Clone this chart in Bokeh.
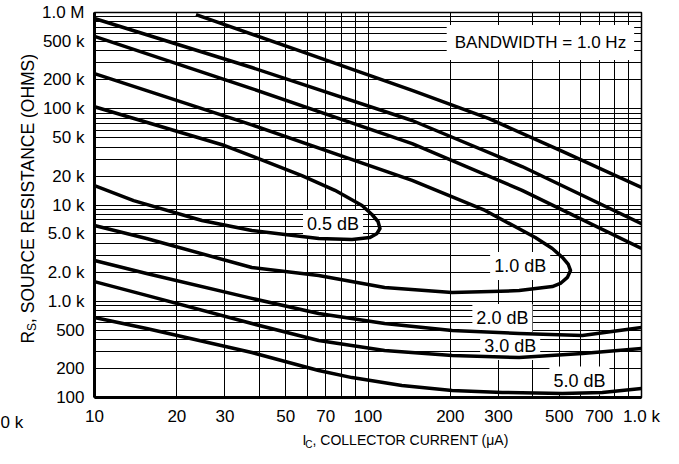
from bokeh.plotting import figure
from bokeh.models import FixedTicker, CustomJSTickFormatter, Label, Range1d
from bokeh.layouts import row, column
from bokeh.embed import file_html
from bokeh.resources import INLINE
from bokeh.core.properties import value
import math

# Noise-figure contours: collector current (uA) vs. source resistance (ohms)
nf05_ic = [10, 29.9, 57.3, 75.7, 95.1, 103.4, 108.8, 110.6, 107.9, 101.7, 87.4, 66.1, 49.7, 37.6, 24.7, 13.9, 10]
nf05_rs = [105e3, 41.5e3, 20.2e3, 14.2e3, 9.9e3, 7.97e3, 6.74e3, 5.7e3, 5.06e3, 4.59e3, 4.38e3, 4.49e3, 4.94e3, 5.43e3, 6.9e3, 11.1e3, 15.9e3]

nf10_ic = [10, 37.6, 145, 268, 409, 472, 514, 540, 550, 536, 505, 472, 357, 203, 115, 66, 37.6, 15.5, 10]
nf10_rs = [232e3, 68e3, 18e3, 8.77e3, 4.59e3, 3.53e3, 2.85e3, 2.41e3, 2.09e3, 1.77e3, 1.53e3, 1.42e3, 1.29e3, 1.23e3, 1.39e3, 1.85e3, 2.24e3, 4.49e3, 6.12e3]

nf20_upper_ic = [10, 37.6, 145, 366, 1000]
nf20_upper_rs = [564e3, 162e3, 43.5e3, 14.2e3, 3.53e3]
nf20_lower_ic = [10, 15.5, 37.6, 66, 115, 203, 357, 608, 1000]
nf20_lower_rs = [2.65e3, 1.94e3, 1.07e3, 746, 587, 497, 462, 441, 534]

nf30_upper_ic = [10, 37.6, 145, 366, 1000]
nf30_upper_rs = [866e3, 268e3, 75.5e3, 25.1e3, 6.4e3]
nf30_lower_ic = [10, 15.5, 37.6, 66, 115, 203, 357, 608, 1000]
nf30_lower_rs = [1.6e3, 1.15e3, 587, 391, 308, 273, 260, 286, 323]

nf50_upper_ic = [23.5, 57, 145, 277, 514, 1000]
nf50_upper_rs = [950e3, 394e3, 155e3, 79e3, 36e3, 15.2e3]
nf50_lower_ic = [10, 15.5, 37.6, 66, 87.4, 133, 203, 310, 514, 719, 1000]
nf50_lower_rs = [678, 521, 293, 191, 161, 133, 118, 113, 110, 113, 124]

# Contour callouts
callout_text = ["0.5 dB", "1.0 dB", "2.0 dB", "3.0 dB", "5.0 dB"]
callout_ic = [74.5, 360, 310, 331, 593]
callout_rs = [6.35e3, 2.32e3, 670, 343, 150]

# Axis tick labels
x_tick_values = [10, 20, 30, 50, 70, 100, 200, 300, 500, 700, 1000]
x_tick_labels = ["10", "20", "30", "50", "70", "100", "200", "300", "500", "700", "1.0 k"]
y_tick_values = [100, 200, 500, 1e3, 2e3, 5e3, 1e4, 2e4, 5e4, 1e5, 2e5, 5e5, 1e6]
y_tick_labels = ["100", "200", "500", "1.0 k", "2.0 k", "5.0 k", "10 k", "20 k", "50 k",
                 "100 k", "200 k", "500 k", "1.0 M"]

FONT = "Liberation Sans"
LEFT_W, BOTTOM_H = 38, 35
W, H = 679, 464

p = figure(width=W - LEFT_W, height=H - BOTTOM_H, x_axis_type="log", y_axis_type="log",
           x_range=(10, 1000), y_range=(100, 1e6),
           output_backend="svg", toolbar_location=None,
           min_border_left=55, min_border_right=38, min_border_top=12, min_border_bottom=32)
p.background_fill_color = "white"
p.border_fill_color = "white"
p.outline_line_color = "black"
p.outline_line_width = 1.5

# log grid: every 1..9 multiple in each decade
def log_grid(lo_exp, hi_exp):
    ticks = []
    for e in range(lo_exp, hi_exp):
        for m in range(1, 10):
            ticks.append(m * 10 ** e)
    ticks.append(10 ** hi_exp)
    return ticks

p.xgrid.ticker = FixedTicker(ticks=log_grid(1, 3))
p.ygrid.ticker = FixedTicker(ticks=log_grid(2, 6))
for g in (p.xgrid, p.ygrid):
    g.grid_line_color = "black"
    g.grid_line_width = 1

fmt_code = """
for (let i = 0; i < vals.length; i++) {
  if (Math.abs(vals[i] - tick) <= 1e-6 * vals[i]) return labs[i];
}
return "";
"""
p.xaxis.ticker = FixedTicker(ticks=x_tick_values)
p.xaxis.formatter = CustomJSTickFormatter(args=dict(vals=x_tick_values, labs=x_tick_labels), code=fmt_code)
p.yaxis.ticker = FixedTicker(ticks=y_tick_values)
p.yaxis.formatter = CustomJSTickFormatter(args=dict(vals=y_tick_values, labs=y_tick_labels), code=fmt_code)

for ax in (p.xaxis, p.yaxis):
    ax.axis_line_width = 3
    ax.axis_line_color = "black"
    ax.major_tick_line_color = None
    ax.minor_tick_line_color = None
    ax.major_tick_out = 0
    ax.major_tick_in = 0
    ax.minor_tick_out = 0
    ax.minor_tick_in = 0
    ax.major_label_text_font = FONT
    ax.major_label_text_font_size = "17px"
    ax.major_label_text_color = "black"
p.xaxis.major_label_standoff = 9
p.yaxis.major_label_standoff = 10

# white label boxes knock out the grid but sit beneath the curves
def boxed(x, y, text, size, pad):
    p.add_layout(Label(x=x, y=y, text=text, text_align="center", text_baseline="middle",
                       text_font=FONT, text_font_size=size, text_color="black",
                       background_fill_color="white", padding=pad, level="underlay"))

for t, xi, yi in zip(callout_text, callout_ic, callout_rs):
    boxed(xi, yi, t, "18px", 4)
boxed(427, 4.88e5, "BANDWIDTH = 1.0 Hz", "17px", 8)

curves = [
    (nf05_ic, nf05_rs), (nf10_ic, nf10_rs),
    (nf20_upper_ic, nf20_upper_rs), (nf20_lower_ic, nf20_lower_rs),
    (nf30_upper_ic, nf30_upper_rs), (nf30_lower_ic, nf30_lower_rs),
    (nf50_upper_ic, nf50_upper_rs), (nf50_lower_ic, nf50_lower_rs),
]
for xs, ys in curves:
    p.line(xs, ys, line_color="black", line_width=3.5, line_join="round")


# text strips around the plot; their ranges are the page's pixel coordinates
def strip(width, height, x0, x1, y0, y1):
    s = figure(width=width, height=height, x_range=Range1d(x0, x1), y_range=Range1d(y1, y0),
               x_axis_type=None, y_axis_type=None, output_backend="svg",
               toolbar_location=None, min_border=0)
    s.outline_line_color = None
    s.background_fill_color = "white"
    s.border_fill_color = "white"
    return s


def put(fig, x, y, text, size, align="left", angle=0.0):
    fig.text(x=[x], y=[y], text=[text], angle=angle, text_font=value(FONT),
             text_font_size=value(size), text_color="black",
             text_align=align, text_baseline="alphabetic")


left = strip(LEFT_W, H, 0, LEFT_W, 0, H)
bottom = strip(W - LEFT_W, BOTTOM_H, LEFT_W, W, H - BOTTOM_H, H)

# x-axis title: I_C, COLLECTOR CURRENT (uA)
put(bottom, 293.5, 439.5, ", COLLECTOR CURRENT (\u03bcA)", "14px")
put(bottom, 293.5, 443.5, "C", "10px", align="right")
put(bottom, 286.3, 439.5, "I", "14px", align="right")

# y-axis title: R_S, SOURCE RESISTANCE (OHMS), reading upwards
half_pi = math.pi / 2
put(left, 27.5, 322.4, ", SOURCE RESISTANCE (OHMS)", "17.5px", angle=half_pi)
put(left, 31.5, 322.4, "S", "12px", align="right", angle=half_pi)
put(left, 27.5, 330.4, "R", "17.5px", align="right", angle=half_pi)

# clipped tick label from the neighbouring panel
put(left, 0, 422, "0 k", "17px")

layout = row(left, column(p, bottom))
open("out.html", "w").write(file_html(layout, INLINE))
